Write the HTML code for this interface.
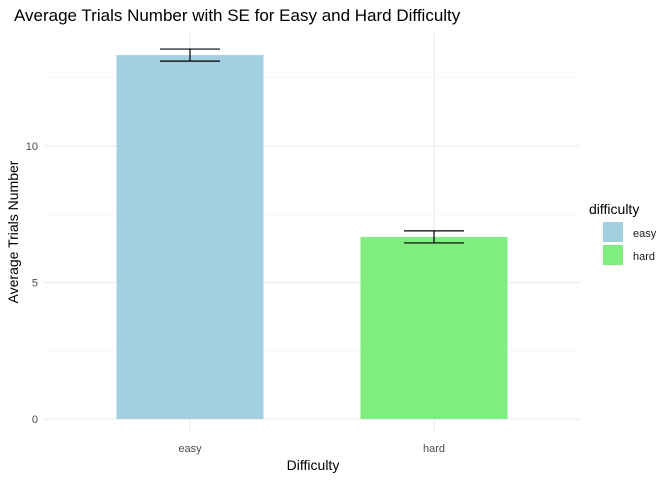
<!DOCTYPE html>
<html><head><meta charset="utf-8"><style>
body{margin:0;background:#fff;font-family:"Liberation Sans",sans-serif}
svg text{font-family:"Liberation Sans",sans-serif}
</style></head><body>
<svg id="chart" width="672" height="480" xmlns="http://www.w3.org/2000/svg">
<rect width="672" height="480" fill="#fff"/>
<text x="14" y="21" font-size="17" fill="#000">Average Trials Number with SE for Easy and Hard Difficulty</text>
<g id="grid"></g><g id="bars"></g><g id="axes"></g>
<text x="313" y="470" font-size="14" text-anchor="middle">Difficulty</text>
<text transform="translate(18,232) rotate(-90)" font-size="14" text-anchor="middle">Average Trials Number</text>
<g>
<text x="589" y="214" font-size="14">difficulty</text>
<rect x="603" y="222" width="20" height="20" fill="#a2d0e0"/>
<text x="633" y="237" font-size="11" fill="#1a1a1a">easy</text>
<rect x="603" y="245" width="20" height="20" fill="#80ed80"/>
<text x="633" y="260" font-size="11" fill="#1a1a1a">hard</text>
</g>
</svg>
<script>
const categories=["easy","hard"];
const means=[13.33,6.67];
const ses=[0.22,0.22];
const colors=["#a2d0e0","#80ed80"];
const yTicks=[0,5,10];
const yMinor=[2.5,7.5,12.5];
const NS="http://www.w3.org/2000/svg";
const left=44,right=580;
const y=v=>419-v*27.3;
const bandW=(right-left)/categories.length;
const x=i=>190+i*244;
const barW=147;
function mk(t,a,p){const e=document.createElementNS(NS,t);for(const k in a)e.setAttribute(k,a[k]);p.appendChild(e);return e;}
const grid=document.getElementById('grid'),bars=document.getElementById('bars'),axes=document.getElementById('axes');
yMinor.forEach(v=>{const l=mk('line',{x1:left,x2:right,y1:y(v),y2:y(v),stroke:'#f2f2f2','stroke-width':0.6},grid);

});
yTicks.forEach(v=>{const l=mk('line',{x1:left,x2:right,y1:y(v),y2:y(v),stroke:'#ebebeb','stroke-width':1.1},grid);


const t=mk('text',{x:38,y:y(v)+4,'font-size':11,fill:'#4d4d4d','text-anchor':'end'},axes);t.textContent=v;

});
categories.forEach((c,i)=>{const l=mk('line',{x1:x(i),x2:x(i),y1:33,y2:430,stroke:'#ebebeb','stroke-width':1.1},grid);


const b=mk('rect',{x:x(i)-barW/2,y:y(means[i]),width:barW,height:y(0)-y(means[i]),fill:colors[i]},bars);


const g=mk('g',{stroke:'#000','stroke-width':1.2,fill:'none'},bars);


const hi=y(means[i]+ses[i]),lo=y(means[i]-ses[i]);
mk('line',{x1:x(i)-30,x2:x(i)+30,y1:hi,y2:hi},g);mk('line',{x1:x(i)-30,x2:x(i)+30,y1:lo,y2:lo},g);mk('line',{x1:x(i),x2:x(i),y1:hi,y2:lo},g);
const t=mk('text',{x:x(i),y:452,'font-size':11,fill:'#4d4d4d','text-anchor':'middle'},axes);t.textContent=c;

});
</script>
</body></html>
